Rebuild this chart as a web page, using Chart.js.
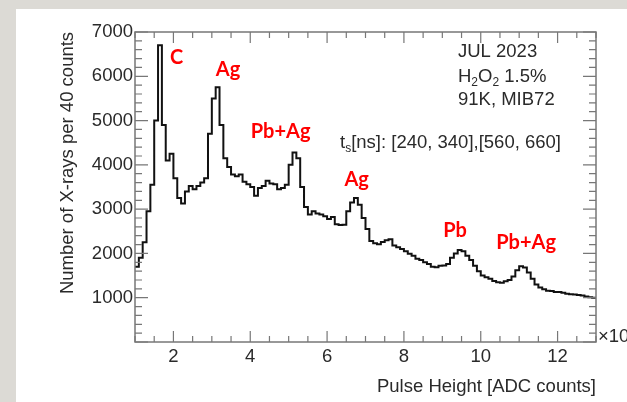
<!DOCTYPE html>
<html>
<head>
<meta charset="utf-8">
<script src="https://cdn.jsdelivr.net/npm/chart.js@4.4.0/dist/chart.umd.min.js"></script>
<style>
html, body { margin: 0; padding: 0; background: #dcdad5; }
#panel { position: absolute; left: 16px; top: 9px; width: 611px; height: 393px; background: #fff; }
#wrap { position: absolute; left: 0; top: 0; width: 627px; height: 402px; }
</style>
</head>
<body>
<div id="panel"></div>
<div id="wrap"><canvas id="myChart" width="627" height="402"></canvas></div>
<script>
// histogram, bins of 0.1 (x10^3 ADC counts) starting at 1.0
var xStart = 1.0;
var binWidth = 0.1;
var counts = [
    1700, 1900, 2250, 2950, 3550, 5000, 6700, 4900, 4100, 4250,
    3700, 3250, 3130, 3400, 3520, 3450, 3520, 3600, 3700, 4700,
    5500, 5750, 4900, 4150, 3950, 3780, 3740, 3780, 3620, 3560,
    3500, 3300, 3480, 3520, 3640, 3580, 3560, 3450, 3480, 3550,
    4000, 4280, 4150, 3500, 3050, 2880, 2950, 2900, 2880, 2840,
    2780, 2820, 2660, 2640, 2650, 2950, 3150, 3250, 3100, 2800,
    2550, 2280, 2230, 2210, 2260, 2300, 2320, 2180, 2140, 2100,
    2050, 1990, 1950, 1880, 1850, 1800, 1760, 1700, 1690, 1720,
    1730, 1760, 1900, 2000, 2080, 2050, 1950, 1850, 1720, 1600,
    1500, 1460, 1430, 1380, 1350, 1340, 1370, 1400, 1480, 1620,
    1710, 1680, 1570, 1430, 1300, 1230, 1190, 1160, 1150, 1130,
    1130, 1110, 1090, 1080, 1070, 1060, 1050, 1030, 1010, 1000
];
var xTicks = [2, 4, 6, 8, 10, 12];
var yTicks = [1000, 2000, 3000, 4000, 5000, 6000, 7000];
var peakNames = ['C', 'Ag', 'Pb+Ag', 'Ag', 'Pb', 'Pb+Ag'];

var points = counts.map(function (c, i) {
    return { x: xStart + i * binWidth, y: c };
});
points.push({ x: xStart + counts.length * binWidth, y: counts[counts.length - 1] });

var grayFont = '18.5px "Liberation Sans", Arial, sans-serif';
var textColor = '#2a2a2a';

var framePlugin = {
    id: 'frame',
    afterDraw: function (chart) {
        var ctx = chart.ctx;
        var a = chart.chartArea;
        var xs = chart.scales.x, ys = chart.scales.y;
        ctx.save();
        ctx.strokeStyle = '#777';
        ctx.lineWidth = 1.5;
        ctx.strokeRect(a.left, a.top, a.right - a.left, a.bottom - a.top);

        // inward ticks, ROOT style
        ctx.lineWidth = 1.2;
        ctx.beginPath();
        for (var v = 1; v <= 13.001; v += 0.5) {
            var px = xs.getPixelForValue(v);
            var len = (Math.abs(v % 2) < 0.01) ? 11 : 6;
            ctx.moveTo(px, a.bottom); ctx.lineTo(px, a.bottom - len);
            ctx.moveTo(px, a.top); ctx.lineTo(px, a.top + len);
        }
        for (var w = 0; w <= 7000; w += 200) {
            var py = ys.getPixelForValue(w);
            var l2 = (w % 1000 === 0) ? 13 : 7;
            ctx.moveTo(a.left, py); ctx.lineTo(a.left + l2, py);
            ctx.moveTo(a.right, py); ctx.lineTo(a.right - l2, py);
        }
        ctx.stroke();

        // axis titles
        ctx.fillStyle = textColor;
        ctx.font = grayFont;
        ctx.textBaseline = 'middle';
        ctx.textAlign = 'right';
        ctx.fillText('Pulse Height [ADC counts]', a.right, 387);
        ctx.textAlign = 'left';
        ctx.fillText('\u00d710', a.right + 2, 337);
        ctx.save();
        ctx.translate(68, 163);
        ctx.rotate(-Math.PI / 2);
        ctx.textAlign = 'center';
        ctx.fillText('Number of X-rays per 40 counts', 0, 0);
        ctx.restore();

        // info box
        var small = '12px "Liberation Sans", Arial, sans-serif';
        var x0 = 458;
        ctx.textAlign = 'left';
        ctx.fillText('JUL 2023', x0, 52);
        var x = x0;
        var parts = [['H', 0], ['2', 1], ['O', 0], ['2', 1], [' 1.5%', 0]];
        parts.forEach(function (p) {
            ctx.font = p[1] ? small : grayFont;
            ctx.fillText(p[0], x, p[1] ? 83 : 77);
            x += ctx.measureText(p[0]).width;
        });
        ctx.font = grayFont;
        ctx.fillText('91K, MIB72', x0, 100);
        x = 340;
        ctx.fillText('t', x, 143); x += ctx.measureText('t').width;
        ctx.font = small;
        ctx.fillText('s', x, 149); x += ctx.measureText('s').width;
        ctx.font = grayFont;
        ctx.fillText('[ns]: [240, 340],[560, 660]', x, 143);

        // peak names
        var spots = [[2.08, 6420], [3.42, 6160], [4.79, 4760], [6.77, 3660], [9.33, 2520], [11.18, 2240]];
        ctx.fillStyle = '#ff0000';
        ctx.font = 'bold 20px Lato, "Open Sans", sans-serif';
        ctx.textAlign = 'center';
        peakNames.forEach(function (n, i) {
            ctx.fillText(n, xs.getPixelForValue(spots[i][0]), ys.getPixelForValue(spots[i][1]));
        });
        ctx.restore();
    }
};

var tickFont = { family: '"Liberation Sans", Arial, sans-serif', size: 18.5 };

var chart1 = document.getElementById('myChart');
var myChart = new Chart(chart1, {
    type: 'line',
    data: {
        datasets: [{
            data: points,
            stepped: true,
            borderColor: '#111',
            borderWidth: 2,
            pointRadius: 0,
            fill: false
        }]
    },
    options: {
        responsive: false,
        animation: false,
        layout: { padding: { left: 0, top: 32, right: 31, bottom: 0 } },
        plugins: { legend: { display: false }, tooltip: { enabled: false } },
        scales: {
            x: {
                type: 'linear',
                min: 1,
                max: 13,
                afterBuildTicks: function (s) { s.ticks = xTicks.map(function (v) { return { value: v }; }); },
                afterFit: function (s) { s.height = 60; },
                grid: { display: false, drawTicks: false },
                border: { display: false },
                ticks: { padding: 4, color: textColor, font: tickFont, callback: function (v) { return String(v); } }
            },
            y: {
                min: 0,
                max: 7000,
                afterBuildTicks: function (s) { s.ticks = yTicks.map(function (v) { return { value: v }; }); },
                afterFit: function (s) { s.width = 135; },
                grid: { display: false, drawTicks: false },
                border: { display: false },
                ticks: { padding: 2, color: textColor, font: tickFont, callback: function (v) { return String(v); } }
            }
        }
    },
    plugins: [framePlugin]
});
</script>
</body>
</html>
